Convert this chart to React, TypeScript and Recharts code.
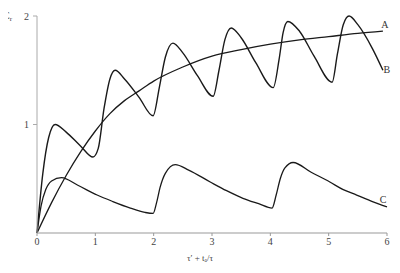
import { LineChart, Line, XAxis, YAxis } from "recharts";

const aX = [0, 0.25, 0.5, 0.75, 1, 1.25, 1.5, 1.75, 2, 2.5, 3, 3.5, 4, 4.5, 5, 5.5, 5.93];
const aY = [0, 0.28, 0.53, 0.75, 0.94, 1.1, 1.22, 1.31, 1.4, 1.53, 1.63, 1.69, 1.74, 1.78, 1.81, 1.84, 1.86];

const bX = [0, 0.1, 0.2, 0.31, 0.5, 0.75, 0.96, 1.05, 1.15, 1.25, 1.34, 1.5, 1.75, 1.99, 2.1, 2.2, 2.33, 2.5, 2.75, 3.02, 3.12, 3.22, 3.33, 3.5, 3.75, 4.05, 4.15, 4.22, 4.3, 4.5, 4.75, 5.06, 5.15, 5.25, 5.35, 5.5, 5.75, 5.93];
const bY = [0, 0.55, 0.88, 1.0, 0.93, 0.8, 0.7, 0.78, 1.15, 1.42, 1.5, 1.42, 1.25, 1.08, 1.35, 1.62, 1.75, 1.66, 1.45, 1.26, 1.5, 1.78, 1.89, 1.8, 1.57, 1.34, 1.6, 1.85, 1.95, 1.86, 1.63, 1.39, 1.65, 1.92, 2.0, 1.92, 1.7, 1.5];

const cX = [0, 0.07, 0.15, 0.25, 0.42, 0.7, 1.03, 1.3, 1.6, 1.85, 1.99, 2.05, 2.11, 2.2, 2.37, 2.6, 2.97, 3.25, 3.53, 3.8, 4.03, 4.1, 4.17, 4.25, 4.39, 4.7, 5.02, 5.25, 5.48, 5.75, 6];
const cY = [0, 0.25, 0.4, 0.48, 0.51, 0.44, 0.35, 0.29, 0.23, 0.19, 0.18, 0.28, 0.42, 0.55, 0.63, 0.58, 0.47, 0.39, 0.32, 0.27, 0.23, 0.35, 0.5, 0.6, 0.65, 0.56, 0.47, 0.4, 0.35, 0.29, 0.24];

const xTicks = [0, 1, 2, 3, 4, 5, 6];
const yTicks = [1, 2];

const toRows = (xs: number[], ys: number[]) => xs.map((x, i) => ({ x, y: ys[i] }));
const dataA = toRows(aX, aY);
const dataB = toRows(bX, bY);
const dataC = toRows(cX, cY);

const FONT = "Liberation Serif, DejaVu Serif, serif";
const INK = "#1a1a1a";

const endLabel = (name: string, last: number, dx: number, dy: number) => (props: any) => {
  if (props.index !== last) return null;
  return (
    <text x={props.x + dx} y={props.y + dy} fontFamily={FONT} fontSize={10} fill="#333" textAnchor="middle">
      {name}
    </text>
  );
};

export default function App() {
  return (
    <div style={{ position: "relative", margin: "-8px 0 0 -8px", width: 400, height: 273, background: "#fff" }}>
      <LineChart width={400} height={273} margin={{ top: 16, right: 13, left: 0, bottom: 0 }}>
        <XAxis
          dataKey="x"
          type="number"
          domain={[0, 6]}
          ticks={xTicks}
          allowDuplicatedCategory={false}
          height={40}
          stroke="#999"
          tickSize={3}
          tickMargin={2}
          tick={{ fontSize: 10, fontFamily: FONT, fill: "#444" }}
          label={{
            content: () => (
              <text x={200} y={261} fontFamily={FONT} fontSize={9} fill="#444" textAnchor="middle">
                τ′ + tₐ/τ
              </text>
            ),
          }}
        />
        <YAxis
          dataKey="y"
          type="number"
          domain={[0, 2]}
          ticks={yTicks}
          width={37}
          stroke="#aaa"
          tickSize={4}
          tickMargin={4}
          tick={{ fontSize: 10, fontFamily: FONT, fill: "#444" }}
        />
        <Line data={dataA} dataKey="y" type="monotone" stroke={INK} strokeWidth={1.3} dot={false} isAnimationActive={false} label={endLabel("A", aX.length - 1, 2, -3)} />
        <Line data={dataB} dataKey="y" type="monotone" stroke={INK} strokeWidth={1.4} dot={false} isAnimationActive={false} label={endLabel("B", bX.length - 1, 4, 3)} />
        <Line data={dataC} dataKey="y" type="monotone" stroke={INK} strokeWidth={1.3} dot={false} isAnimationActive={false} label={endLabel("C", cX.length - 1, -4, -4)} />
      </LineChart>
      <div style={{ position: "absolute", zIndex: 5, left: 3, top: 11, fontFamily: FONT, fontSize: 10, color: "#444", lineHeight: "10px", whiteSpace: "nowrap" }}>
        C<span style={{ fontSize: 7, verticalAlign: "-2px" }}>r</span>
      </div>
    </div>
  );
}
